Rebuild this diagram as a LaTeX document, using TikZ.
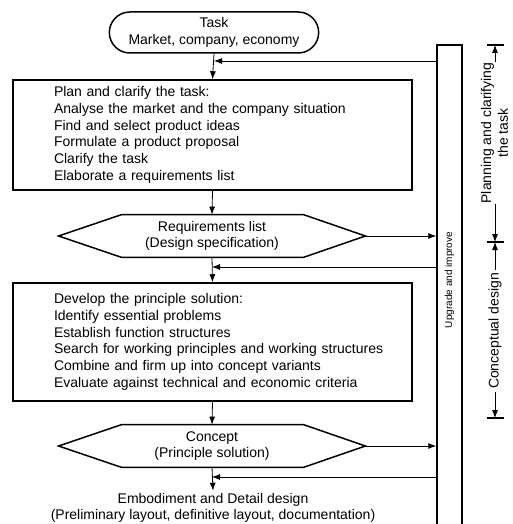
\documentclass[tikz,border=0pt]{standalone}
\usepackage{fontspec}
\setmainfont{Liberation Sans}
\usetikzlibrary{shapes.misc,arrows.meta}
\tikzset{
  txt/.style={font=\fontsize{14}{16.7}\selectfont},
  stepbox/.style={txt,draw,line width=1.5pt,text width=317pt,inner xsep=41pt,align=left},
  hexbox/.style={txt,minimum width=306pt,minimum height=42pt,align=center},
  dimtick/.style={line width=1.2pt},
}
% hexagon drawn round a named node
\newcommand{\drawhex}[1]{\draw[line width=1.5pt] (#1.west) -- ([xshift=63pt]#1.north west) -- ([xshift=-62pt]#1.north east) -- (#1.east) -- ([xshift=-62pt]#1.south east) -- ([xshift=63pt]#1.south west) -- cycle;}
\begin{document}
\begin{tikzpicture}[>={Latex[length=8pt,width=6pt]},x=1pt,y=-1pt,line width=0.8pt]
\useasboundingbox (0,0) rectangle (512,524);
\node[txt,draw,line width=1.5pt,rounded rectangle,minimum width=216pt,minimum height=41pt,align=center] (task) at (214,32.5) {Task\\Market, company, economy};
\node[stepbox,minimum height=110pt] (plan) at (212.5,135) {Plan and clarify the task:\\Analyse the market and the company situation\\Find and select product ideas\\Formulate a product proposal\\Clarify the task\\Elaborate a requirements list};
\node[hexbox] (req) at (212,236) {Requirements list\\(Design specification)};
\drawhex{req}
\node[stepbox,minimum height=118pt] (dev) at (212.5,342) {Develop the principle solution:\\Identify essential problems\\Establish function structures\\\mbox{Search for working principles and working structures}\\Combine and firm up into concept variants\\\mbox{Evaluate against technical and economic criteria}};
\node[hexbox] (con) at (212,446) {Concept\\(Principle solution)};
\drawhex{con}
\node[txt,align=center,inner sep=2pt] (emb) at (213,508) {Embodiment and Detail design\\(Preliminary layout, definitive layout, documentation)};

% upgrade column
\node[draw,line width=1.5pt,minimum width=25pt,minimum height=495pt,inner sep=0pt] (upg) at (449.5,292.5) {};
\node[rotate=90,font=\fontsize{10}{12}\selectfont] (upglbl) at (449.5,280) {Upgrade and improve};

% main flow
\draw[->] (task.south) -- (plan.north);
\draw[->] (plan.south) -- (req.north);
\draw[->] (req.south) -- (dev.north);
\draw[->] (dev.south) -- (con.north);
\draw[->] (con.south) -- (emb.north);
\draw[->] (req.east) -- (req.east -| upg.west);
\draw[->] (con.east) -- (con.east -| upg.west);
% feedback
\coordinate (fba) at (task.south |- 0,61);
\coordinate (fbb) at (req.south |- 0,267);
\coordinate (fbc) at (con.south |- 0,477);
\draw[->] (fba -| upg.west) -- (fba);
\draw[->] (fbb -| upg.west) -- (fbb);
\draw[->] (fbc -| upg.west) -- (fbc);

% phases
\coordinate (ta) at (495,45);
\coordinate (tb) at (495,242);
\coordinate (tc) at (495,418);
\foreach \t in {ta,tb,tc}
  \draw[dimtick] ([xshift=-8pt]\t) -- ([xshift=9pt]\t);
\node[txt,rotate=90,align=center,inner sep=0pt] (planlbl) at (494.5,133) {Planning and clarifying\\the task};
\node[txt,rotate=90,inner sep=3pt] (conlbl) at (495,331) {Conceptual design};
\draw[->] (planlbl.east -| ta) -- (ta);
\draw[->] (planlbl.west -| tb) -- (tb);
\draw[->] (conlbl.east) -- (tb);
\draw[->] (conlbl.west) -- (tc);
\end{tikzpicture}
\end{document}
